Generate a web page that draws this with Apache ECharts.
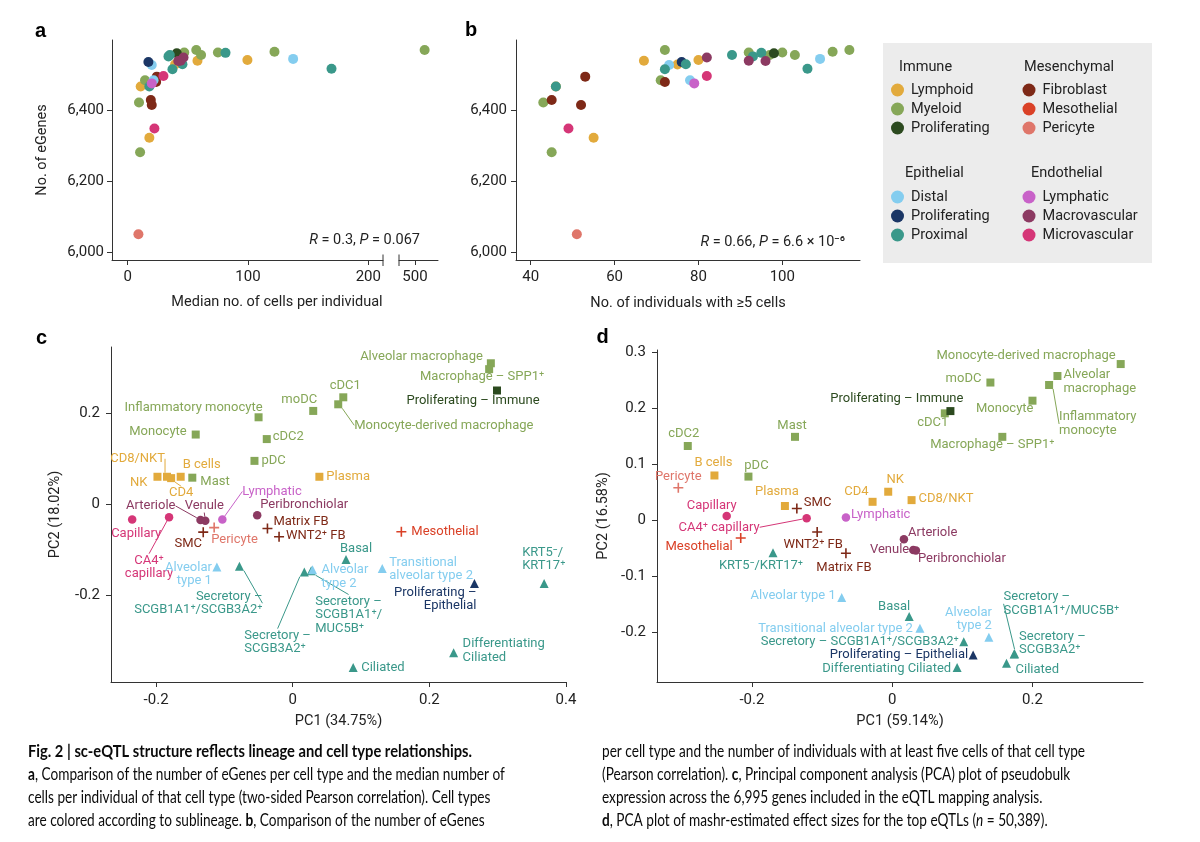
<!DOCTYPE html>
<html>
<head>
<meta charset="utf-8">
<script src="https://cdn.jsdelivr.net/npm/echarts@6/dist/echarts.min.js"></script>
<style>html,body{margin:0;padding:0;background:#fff}#chart{width:1200px;height:842px}</style>
</head>
<body>
<div id="chart"></div>
<script>
const FONT = 'Roboto, "Noto Sans", "DejaVu Sans", sans-serif';
const CAP_FONT = 'Lato, "Open Sans", sans-serif';

// ---------- groups ----------
const groupCodes = ['L', 'M', 'PI', 'F', 'Me', 'Pe', 'D', 'PE', 'Pr', 'Ly', 'Ma', 'Mi'];
const groupNames = ['Immune|Lymphoid', 'Immune|Myeloid', 'Immune|Proliferating',
  'Mesenchymal|Fibroblast', 'Mesenchymal|Mesothelial', 'Mesenchymal|Pericyte',
  'Epithelial|Distal', 'Epithelial|Proliferating', 'Epithelial|Proximal',
  'Endothelial|Lymphatic', 'Endothelial|Macrovascular', 'Endothelial|Microvascular'];
const groupColors = ['#E2AA3C', '#86A758', '#2C4A1F', '#7E2917', '#DA4127', '#DF766A',
  '#84CDEF', '#1B3665', '#3A988A', '#C862C8', '#8C3A62', '#D53677'];

// ---------- panels a / b ----------
const abGroup = ['M','M','M','M','M','M','M','M','M','M','L','L','L','L','L','PI','F','F','F','F','Pe','Ly','Ma','Ma','Ma','Mi','Mi','D','D','D','PE','Pr','Pr','Pr','Pr','Pr','Pr','Pr'];
const abEGenes = [6569,6569,6564,6562,6562,6555,6555,6484,6421,6281,6541,6539,6528,6466,6322,6560,6494,6479,6428,6414,6050,6475,6548,6539,6538,6496,6348,6544,6527,6484,6535,6561,6555,6551,6529,6516,6515,6466];
const abMedianCells = [57,508,122,75,47,61,44,14.4,9.4,10.3,99.5,58,39.4,10.8,18,40.8,24.2,23.6,19.2,20,8.9,20,46.4,44,42,29.7,22.2,137.5,20,21.5,17.2,81.3,35,33.9,45.5,169.4,37.2,18];
const abIndividuals = [72,116,112,92,100,97,103,71,43,45,80,67,75,46,55,98,53,72,45,52,51,79,82,92,96,82,49,109,73,78,76,95,88,93,77,106,72,46];

const aYTicks = [6000, 6200, 6400];
const aXTicks = [0, 100, 200];
const aXBreakTicks = [500];
const bXTicks = [40, 60, 80, 100];

// ---------- panels c / d ----------
const cellTypes = ['Alveolar macrophage','Macrophage – SPP1⁺','cDC1','moDC','Monocyte-derived macrophage','Inflammatory monocyte','Monocyte','cDC2','pDC','Mast',
  'CD8/NKT','NK','B cells','CD4','Plasma','Proliferating – Immune','SMC','Matrix FB','WNT2⁺ FB','Mesothelial','Pericyte',
  'Lymphatic','Arteriole','Venule','Peribronchiolar','Capillary','CA4⁺ capillary',
  'Alveolar type 1','Alveolar type 2','Transitional alveolar type 2','Proliferating – Epithelial','Basal',
  'Secretory – SCGB1A1⁺/SCGB3A2⁺','Secretory – SCGB3A2⁺','Secretory – SCGB1A1⁺/MUC5B⁺','KRT5⁻/KRT17⁺','Ciliated','Differentiating Ciliated'];
const cellGroup = ['M','M','M','M','M','M','M','M','M','M','L','L','L','L','L','PI','F','F','F','Me','Pe','Ly','Ma','Ma','Ma','Mi','Mi','D','D','D','PE','Pr','Pr','Pr','Pr','Pr','Pr','Pr'];
const exprPC1 = [0.290,0.2875,0.074,0.030,0.0666,-0.050,-0.142,-0.038,-0.056,-0.147,-0.184,-0.198,-0.164,-0.178,0.039,0.299,-0.131,-0.037,-0.020,0.159,-0.115,-0.103,-0.135,-0.128,-0.052,-0.235,-0.181,-0.111,0.029,0.131,0.266,0.078,-0.078,0.017,0.027,0.368,0.0885,0.2355];
const exprPC2 = [0.310,0.297,0.235,0.205,0.2196,0.191,0.153,0.143,0.095,0.058,0.060,0.060,0.060,0.057,0.060,0.250,-0.062,-0.054,-0.072,-0.061,-0.052,-0.034,-0.035,-0.037,-0.025,-0.034,-0.029,-0.139,-0.145,-0.142,-0.175,-0.122,-0.137,-0.150,-0.147,-0.175,-0.360,-0.3275];
const effPC1 = [0.2356,0.157,0.075,0.140,0.3258,0.2237,0.200,-0.2915,-0.205,-0.1386,0.0276,-0.0057,-0.2535,-0.028,-0.153,0.083,-0.136,-0.066,-0.107,-0.216,-0.305,-0.066,0.0167,0.030,0.0338,-0.236,-0.122,-0.072,0.1378,0.0395,0.1154,0.0242,0.102,0.1738,0.1745,-0.170,0.163,0.0926];
const effPC2 = [0.2577,0.149,0.191,0.246,0.279,0.2416,0.2136,0.1327,0.078,0.149,0.036,0.051,0.080,0.033,0.0255,0.195,0.021,-0.059,-0.021,-0.0316,0.058,0.005,-0.034,-0.053,-0.054,0.0077,0.0036,-0.138,-0.209,-0.193,-0.2405,-0.172,-0.2167,-0.239,-0.2385,-0.058,-0.2554,-0.263];

const cXTicks = [-0.2, 0, 0.2, 0.4];
const cYTicks = [-0.2, 0, 0.2];
const dXTicks = [-0.2, 0, 0.2];
const dYTicks = [-0.2, -0.1, 0, 0.1, 0.2, 0.3];

// ---------- label placement (style): [align, dx, dy, leader, text] ----------
const cLabelLayout = {
  'Alveolar macrophage': ['r', -8, -7], 'Macrophage – SPP1⁺': ['c', -7, 8], 'cDC1': ['c', 2, -12], 'moDC': ['c', -14, -11],
  'Monocyte-derived macrophage': ['l', 16, 21, 1], 'Inflammatory monocyte': ['r', 4, -10], 'Monocyte': ['r', -9, -3],
  'cDC2': ['l', 6, -2], 'pDC': ['l', 7, 0], 'Mast': ['l', 8, 4], 'CD8/NKT': ['r', -2, -18, 1], 'NK': ['r', -10, 6],
  'B cells': ['l', 2, -12], 'CD4': ['l', -2, 15, 1], 'Plasma': ['l', 7, 0], 'Proliferating – Immune': ['c', -24, 10],
  'SMC': ['c', -15, 12], 'Matrix FB': ['l', 6, -7], 'WNT2⁺ FB': ['l', 7, -1], 'Mesothelial': ['l', 10, 0], 'Pericyte': ['l', -3, 12],
  'Lymphatic': ['l', 20, -28, 1], 'Arteriole': ['r', -25, -14, 1], 'Venule': ['c', -1, -15, 1], 'Peribronchiolar': ['l', 3, -11],
  'Capillary': ['c', 4, 14], 'CA4⁺ capillary': ['c', -20, 50, 1, 'CA4⁺\ncapillary'],
  'Alveolar type 1': ['r', -5, 7, 0, 'Alveolar\ntype 1'], 'Alveolar type 2': ['l', 9, 7, 0, 'Alveolar\ntype 2'],
  'Transitional alveolar type 2': ['l', 7, 1, 0, 'Transitional\nalveolar type 2'],
  'Proliferating – Epithelial': ['r', 2, 16, 0, 'Proliferating –\nEpithelial'], 'Basal': ['c', 10, -11],
  'Secretory – SCGB1A1⁺/SCGB3A2⁺': ['r', 23, 37, 1, 'Secretory –\nSCGB1A1⁺/SCGB3A2⁺'],
  'Secretory – SCGB3A2⁺': ['l', -60, 70, 1, 'Secretory –\nSCGB3A2⁺'],
  'Secretory – SCGB1A1⁺/MUC5B⁺': ['l', 4, 44, 1, 'Secretory –\nSCGB1A1⁺/\nMUC5B⁺'],
  'KRT5⁻/KRT17⁺': ['l', -22, -24, 0, 'KRT5⁻/\nKRT17⁺'], 'Ciliated': ['l', 8, 0],
  'Differentiating Ciliated': ['l', 9, -2, 0, 'Differentiating\nCiliated']
};
const dLabelLayout = {
  'Alveolar macrophage': ['l', 6, 6, 0, 'Alveolar\nmacrophage'], 'Macrophage – SPP1⁺': ['c', -10, 8], 'cDC1': ['c', -12, 9],
  'moDC': ['r', -9, -4], 'Monocyte-derived macrophage': ['r', -5, -8], 'Inflammatory monocyte': ['l', 10, 39, 1, 'Inflammatory\nmonocyte'],
  'Monocyte': ['r', 1, 8], 'cDC2': ['c', -4, -12], 'pDC': ['c', 8, -11], 'Mast': ['c', -3, -11], 'CD8/NKT': ['l', 7, -1],
  'NK': ['c', 7, -12], 'B cells': ['c', -1, -13], 'CD4': ['r', -4, -10], 'Plasma': ['c', -8, -14], 'Proliferating – Immune': ['r', 13, -12],
  'SMC': ['l', 7, -6], 'Matrix FB': ['c', -2, 14], 'WNT2⁺ FB': ['c', -4, 13], 'Mesothelial': ['r', -8, 9], 'Pericyte': ['c', 0, -11],
  'Lymphatic': ['l', 5, -3], 'Arteriole': ['l', 4, -7], 'Venule': ['r', -4, 0], 'Peribronchiolar': ['l', 2, 8],
  'Capillary': ['c', -15, -10], 'CA4⁺ capillary': ['r', -47, 9, 1], 'Alveolar type 1': ['r', -6, -2],
  'Alveolar type 2': ['r', 3, -18, 0, 'Alveolar\ntype 2'], 'Transitional alveolar type 2': ['r', -7, 0],
  'Proliferating – Epithelial': ['r', -5, 0], 'Basal': ['r', 1, -10], 'Secretory – SCGB1A1⁺/SCGB3A2⁺': ['r', -5, 0],
  'Secretory – SCGB3A2⁺': ['l', 5, -11, 0, 'Secretory –\nSCGB3A2⁺'],
  'Secretory – SCGB1A1⁺/MUC5B⁺': ['l', -11, -50, 1, 'Secretory –\nSCGB1A1⁺/MUC5B⁺'],
  'KRT5⁻/KRT17⁺': ['c', -12, 13], 'Ciliated': ['l', 9, 6], 'Differentiating Ciliated': ['r', -6, 1]
};

// ---------- caption text ----------
const captionTitle = 'Fig. 2 | sc-eQTL structure reflects lineage and cell type relationships.';
const captionLeft = [
  '{b|a}, Comparison of the number of eGenes per cell type and the median number of',
  'cells per individual of that cell type (two-sided Pearson correlation). Cell types',
  'are colored according to sublineage. {b|b}, Comparison of the number of eGenes'
];
const captionRight = [
  'per cell type and the number of individuals with at least five cells of that cell type',
  '(Pearson correlation). {b|c}, Principal component analysis (PCA) plot of pseudobulk',
  'expression across the 6,995 genes included in the eQTL mapping analysis.',
  '{b|d}, PCA plot of mashr-estimated effect sizes for the top eQTLs ({i|n} = 50,389).'
];

// =====================================================================
const AX = '#333';
const TICK_SIZE = 15, NAME_SIZE = 14.5;
function valAxis(gridIndex, min, max, ticks, o) {
  o = o || {};
  return {
    type: 'value', gridIndex: gridIndex, min: min, max: max, show: o.show !== false,
    name: o.name || '', nameLocation: 'middle', nameGap: o.nameGap || 30, nameRotate: o.nameRotate,
    nameTextStyle: { color: '#222', fontSize: NAME_SIZE, fontFamily: FONT },
    axisLine: { show: true, onZero: false, lineStyle: { color: AX, width: 1 } },
    axisTick: { show: true, length: 5, customValues: ticks, lineStyle: { color: AX, width: 1 } },
    axisLabel: { show: true, customValues: ticks, margin: o.margin || 8, color: '#222', fontSize: TICK_SIZE, fontFamily: FONT, formatter: o.fmt },
    splitLine: { show: false }
  };
}
const commaFmt = v => Math.round(v).toLocaleString('en-US');
const gi = code => groupCodes.indexOf(code);

const series = [];
// panels a/b
groupCodes.forEach((code, g) => {
  const idx = abGroup.map((c, i) => i).filter(i => abGroup[i] === code);
  if (!idx.length) return;
  const base = { type: 'scatter', name: groupNames[g], symbol: 'circle', symbolSize: 10,
    itemStyle: { color: groupColors[g], opacity: 1 }, emphasis: { disabled: true }, silent: true };
  const main = idx.filter(i => abMedianCells[i] < 300);
  const brk = idx.filter(i => abMedianCells[i] >= 300);
  series.push(Object.assign({}, base, { xAxisIndex: 0, yAxisIndex: 0, data: main.map(i => [abMedianCells[i], abEGenes[i]]) }));
  if (brk.length) series.push(Object.assign({}, base, { xAxisIndex: 1, yAxisIndex: 1, data: brk.map(i => [abMedianCells[i], abEGenes[i]]) }));
  series.push(Object.assign({}, base, { xAxisIndex: 2, yAxisIndex: 2, data: idx.map(i => [abIndividuals[i], abEGenes[i]]) }));
});

// panels c/d
const crossPath = 'path://M4.2,0H5.8V4.2H10V5.8H5.8V10H4.2V5.8H0V4.2H4.2Z';
function symbolFor(name) {
  if (name.startsWith('Immune')) return ['rect', 8];
  if (name.startsWith('Mesenchymal')) return [crossPath, 10];
  if (name.startsWith('Endothelial')) return ['circle', 8.5];
  return ['triangle', 9];
}
const pcaOrder = ['Mi', 'Ma', 'Ly', 'F', 'Me', 'Pe', 'L', 'M', 'PI', 'Pr', 'D', 'PE'];
function pcaSeries(axisIdx, xs, ys, layout) {
  pcaOrder.forEach(code => {
    const g = gi(code);
    const idx = cellGroup.map((c, i) => i).filter(i => cellGroup[i] === code);
    const sym = symbolFor(groupNames[g]);
    series.push({
      type: 'scatter', name: groupNames[g], xAxisIndex: axisIdx, yAxisIndex: axisIdx,
      symbol: sym[0], symbolSize: sym[1], silent: true,
      itemStyle: { color: groupColors[g], opacity: 1 }, emphasis: { disabled: true },
      data: idx.map(i => ({ name: cellTypes[i], value: [xs[i], ys[i]], labelLine: { show: !!layout[cellTypes[i]][3] } })),
      label: { show: true, color: groupColors[g], fontSize: 13, fontFamily: FONT, lineHeight: 13.5,
        formatter: p => layout[p.name][4] || p.name },
      labelLine: { show: false, length2: 0, lineStyle: { color: groupColors[g], width: 1 } },
      labelLayout: function (p) {
        const L = layout[cellTypes[idx[p.dataIndex]]];
        const cx = p.rect.x + p.rect.width / 2, cy = p.rect.y + p.rect.height / 2;
        return { x: cx + L[1], y: cy + L[2], align: { l: 'left', r: 'right', c: 'center' }[L[0]], verticalAlign: 'middle' };
      }
    });
  });
}
pcaSeries(3, exprPC1, exprPC2, cLabelLayout);
pcaSeries(4, effPC1, effPC2, dLabelLayout);

// ---------- caption measurement ----------
const CAP_SIZE = 17;
function measure(t, weight) {
  const ctx = document.createElement('canvas').getContext('2d');
  ctx.font = weight + ' ' + CAP_SIZE + 'px ' + CAP_FONT;
  return ctx.measureText(t).width;
}
const capScale = 483 / measure(captionRight[0], 'normal');
const titleScale = 444 / measure(captionTitle, 'bold');
const capRich = {
  b: { fontWeight: 'bold', fontSize: CAP_SIZE, fontFamily: CAP_FONT, fill: '#0a0a0a' },
  i: { fontStyle: 'italic', fontSize: CAP_SIZE, fontFamily: CAP_FONT, fill: '#0a0a0a' }
};
function capText(text, x, y, scale, weight) {
  return { type: 'text', x: x, y: y, scaleX: scale, silent: true,
    style: { text: text, fontSize: CAP_SIZE, fontFamily: CAP_FONT, fontWeight: weight || 'normal', fill: '#0a0a0a',
      align: 'left', verticalAlign: 'middle', rich: capRich } };
}
const LINE0 = 752, LSTEP = 22.7;
const captionEls = [capText(captionTitle, 28, LINE0, titleScale, 'bold')];
captionLeft.forEach((t, i) => captionEls.push(capText(t, 28, LINE0 + LSTEP * (i + 1), capScale)));
captionRight.forEach((t, i) => captionEls.push(capText(t, 602, LINE0 + LSTEP * i, capScale)));

function txt(text, x, y, o) {
  o = o || {};
  return { type: 'text', x: x, y: y, silent: true, rotation: o.rotation || 0,
    style: { text: text, fontSize: o.size || 14, fontFamily: o.font || FONT, fontWeight: o.weight || 'normal',
      fill: o.color || '#222', align: o.align || 'left', verticalAlign: o.va || 'middle', rich: o.rich } };
}
const italRich = {
  i: { fontStyle: 'italic', fontSize: 14.5, fontFamily: FONT, fill: '#222' }
};

const legendCols = [
  { title: 'Immune', tx: 899, ty: 67, left: 891, top: 82.5, items: [0, 1, 2] },
  { title: 'Mesenchymal', tx: 1024, ty: 67, left: 1022.5, top: 82.5, items: [3, 4, 5] },
  { title: 'Epithelial', tx: 905, ty: 173, left: 891, top: 189.5, items: [6, 7, 8] },
  { title: 'Endothelial', tx: 1031, ty: 173, left: 1022.5, top: 189.5, items: [9, 10, 11] }
];
const letterFont = 'Arial, "Liberation Sans", sans-serif';

const option = {
  animation: false,
  backgroundColor: '#ffffff',
  textStyle: { fontFamily: FONT },
  grid: [
    { left: 112, top: 40, width: 271, height: 220, containLabel: false, outerBoundsMode: 'none' },
    { left: 399, top: 40, width: 39, height: 220, containLabel: false, outerBoundsMode: 'none' },
    { left: 516, top: 40, width: 344, height: 220, containLabel: false, outerBoundsMode: 'none' },
    { left: 111, top: 347, width: 455, height: 335, containLabel: false, outerBoundsMode: 'none' },
    { left: 657, top: 350, width: 486, height: 332, containLabel: false, outerBoundsMode: 'none' }
  ],
  xAxis: [
    valAxis(0, -13.05, 212.2, aXTicks, { margin: 10 }),
    valAxis(1, 486.7, 519.1, aXBreakTicks, { margin: 10 }),
    valAxis(2, 36.49, 118.53, bXTicks, { margin: 10, name: 'No. of individuals with ≥5 cells', nameGap: 36 }),
    valAxis(3, -0.266, 0.4, cXTicks, { margin: 11, name: 'PC1 (34.75%)', nameGap: 32 }),
    valAxis(4, -0.3354, 0.3576, dXTicks, { margin: 11, name: 'PC1 (59.14%)', nameGap: 32 })
  ],
  yAxis: [
    valAxis(0, 5977.5, 6597.2, aYTicks, { margin: 8, fmt: commaFmt, name: 'No. of eGenes', nameGap: 62, nameRotate: 90 }),
    valAxis(1, 5977.5, 6597.2, [], { show: false }),
    valAxis(2, 5977.5, 6597.2, aYTicks, { margin: 9, fmt: commaFmt }),
    valAxis(3, -0.392, 0.3458, cYTicks, { margin: 11, name: 'PC2 (18.02%)', nameGap: 48, nameRotate: 90 }),
    valAxis(4, -0.2888, 0.3041, dYTicks, { margin: 11, name: 'PC2 (16.58%)', nameGap: 46, nameRotate: 90 })
  ],
  legend: legendCols.map(c => ({
    show: true, orient: 'vertical', left: c.left, top: c.top, padding: 0,
    itemWidth: 13, itemHeight: 13, itemGap: 4, icon: 'circle', selectedMode: false,
    data: c.items.map(i => groupNames[i]),
    formatter: n => n.split('|')[1],
    textStyle: { fontSize: 14.5, color: '#222', fontFamily: FONT, padding: [0, 0, 0, 2] }
  })),
  graphic: {
    elements: [
      { type: 'rect', shape: { x: 883, y: 43, width: 269, height: 220 }, style: { fill: '#ECECEC' }, z: -10, silent: true },
      ...legendCols.map(c => txt(c.title, c.tx, c.ty, { size: 14.5 })),
      txt('a', 35, 31.5, { size: 20, weight: 'bold', font: letterFont, color: '#000' }),
      txt('b', 465, 30.5, { size: 20, weight: 'bold', font: letterFont, color: '#000' }),
      txt('c', 36, 338.5, { size: 20, weight: 'bold', font: letterFont, color: '#000' }),
      txt('d', 596.5, 337.5, { size: 20, weight: 'bold', font: letterFont, color: '#000' }),
      txt('Median no. of cells per individual', 277, 302, { align: 'center', size: NAME_SIZE }),
      { type: 'line', shape: { x1: 383, y1: 254.5, x2: 383, y2: 266 }, style: { stroke: AX, lineWidth: 1 }, silent: true },
      { type: 'line', shape: { x1: 399, y1: 254.5, x2: 399, y2: 266 }, style: { stroke: AX, lineWidth: 1 }, silent: true },
      txt('{i|R} = 0.3, {i|P} = 0.067', 420, 240, { align: 'right', rich: italRich, size: 14.5 }),
      txt('{i|R} = 0.66, {i|P} = 6.6 × 10⁻⁶', 845, 242, { align: 'right', rich: italRich, size: 14.5 }),
      ...captionEls
    ]
  },
  series: series
};

const chart = echarts.init(document.getElementById('chart'), null, { renderer: 'canvas', width: 1200, height: 842 });
chart.setOption(option);
</script>
</body>
</html>
